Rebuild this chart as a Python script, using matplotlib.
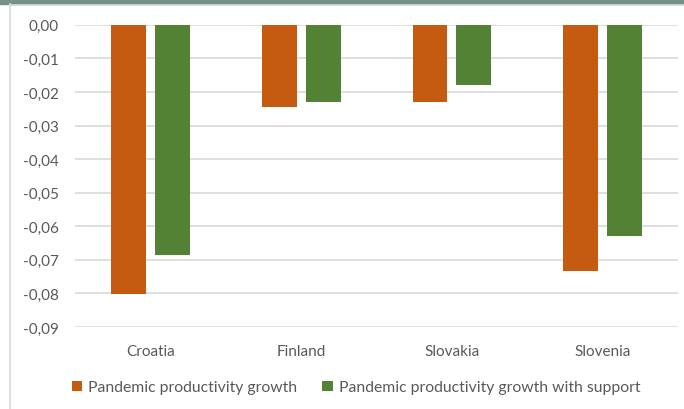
import matplotlib.pyplot as plt
import matplotlib.patches as mpatches
import numpy as np

# Data
countries = ["Croatia", "Finland", "Slovakia", "Slovenia"]
growth = [-0.0801, -0.0244, -0.0229, -0.0732]
growth_support = [-0.0687, -0.0229, -0.0179, -0.0628]
yticks = [0.0, -0.01, -0.02, -0.03, -0.04, -0.05, -0.06, -0.07, -0.08, -0.09]

orange = "#c55a11"
green = "#548235"
text_gray = "#595959"

plt.rcParams["font.family"] = ["Lato", "DejaVu Sans"]

fig = plt.figure(figsize=(6.84, 4.10), dpi=100)
ax = fig.add_axes([0.11, 0.2, 0.881, 0.737])

x = np.arange(len(countries))
w = 0.232
gap = 0.058
ax.bar(x - (w + gap) / 2, growth, width=w, color=orange, label="Pandemic productivity growth", zorder=3)
ax.bar(x + (w + gap) / 2, growth_support, width=w, color=green,
       label="Pandemic productivity growth with support", zorder=3)

ax.set_xlim(-0.5, len(countries) - 0.5)
ax.set_ylim(-0.09, 0.0)
ax.set_yticks(yticks)
ax.set_yticklabels([f"{v:.2f}".replace(".", ",") for v in yticks])
ax.set_xticks(x)
ax.set_xticklabels(countries)
ax.tick_params(length=0, labelsize=11, labelcolor=text_gray)
ax.tick_params(axis="y", pad=12)
ax.tick_params(axis="x", pad=12)
ax.grid(axis="y", color="#d9d9d9", linewidth=1.2, zorder=0)
for s in ax.spines.values():
    s.set_visible(False)

ax.legend(loc="upper center", bbox_to_anchor=(0.466, -0.13), ncol=2, frameon=False,
          fontsize=11.3, labelcolor=text_gray, handlelength=0.65, handleheight=0.65,
          handletextpad=0.4, columnspacing=1.6)

# chart frame: dark band on top, thin border on the left
fig.patches.append(mpatches.Rectangle((0, 0.988), 1, 0.012, transform=fig.transFigure,
                                      color="#78908a", zorder=0))
fig.lines.append(plt.Line2D([0.0146, 0.0146], [0, 0.988], transform=fig.transFigure,
                            color="#d9d9d9", linewidth=1.2))
fig.lines.append(plt.Line2D([0.0146, 1], [0.986, 0.986], transform=fig.transFigure,
                            color="#d9d9d9", linewidth=1.2))

fig.savefig("out.png", dpi=100)
